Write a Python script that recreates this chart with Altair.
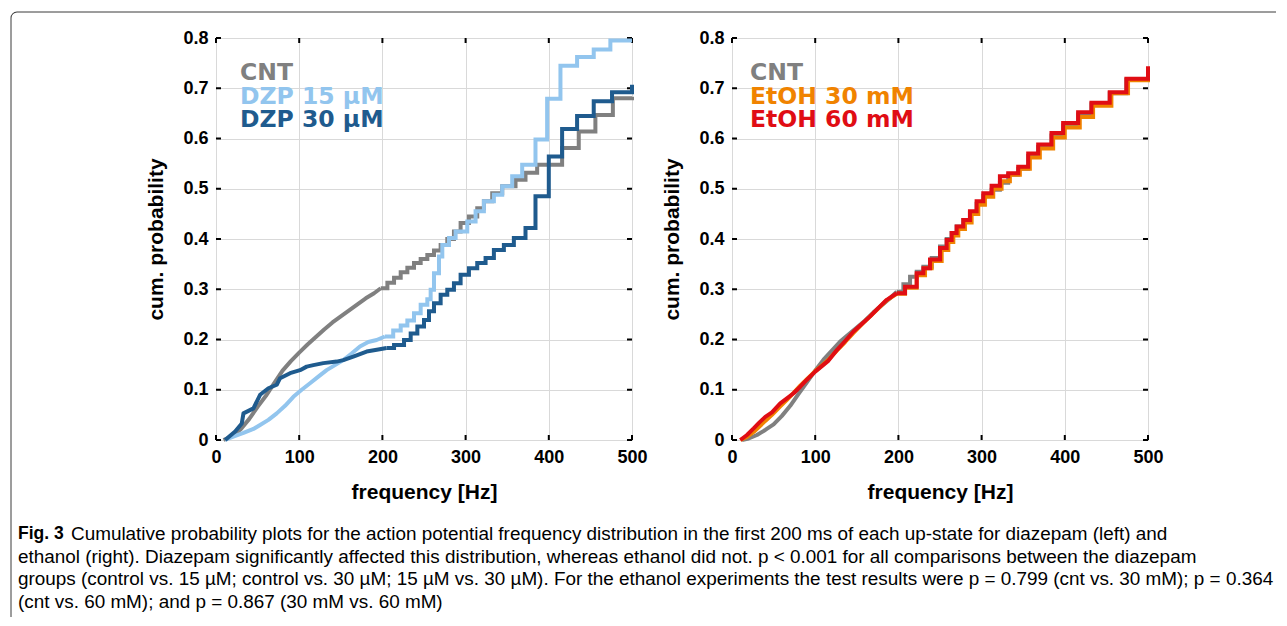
import altair as alt
import pandas as pd

# ---------------- data ----------------
# Left panel: diazepam
cnt_l_freq = [9, 20, 30, 40, 50, 60, 70, 80, 90, 100, 110, 120, 130, 140, 150, 160, 170, 180, 190,
              198, 206, 214, 222, 230, 238, 246, 254, 262, 270, 278, 286, 294, 304, 314, 322, 332,
              344, 360, 372, 386, 416, 436, 456, 477, 500]
cnt_l_prob = [0, 0.008, 0.022, 0.042, 0.066, 0.088, 0.113, 0.138, 0.157, 0.174, 0.19, 0.205, 0.22,
              0.234, 0.246, 0.258, 0.27, 0.282, 0.292, 0.302, 0.313, 0.323, 0.334, 0.343, 0.352,
              0.36, 0.368, 0.377, 0.388, 0.4, 0.415, 0.432, 0.445, 0.461, 0.475, 0.491, 0.505,
              0.518, 0.532, 0.548, 0.581, 0.614, 0.647, 0.68, 0.683]

dzp15_freq = [11, 20, 33, 45, 53, 63, 73, 83, 93, 103, 113, 123, 133, 143, 153, 163, 173, 183, 193,
              203, 213, 222, 230, 238, 246, 254, 258, 262, 268, 272, 280, 288, 302, 312, 322, 334,
              344, 356, 368, 384, 398, 414, 434, 454, 474, 500]
dzp15_prob = [0, 0.006, 0.014, 0.022, 0.03, 0.04, 0.053, 0.068, 0.086, 0.1, 0.113, 0.126, 0.139,
              0.149, 0.159, 0.172, 0.186, 0.195, 0.199, 0.206, 0.218, 0.228, 0.238, 0.252, 0.269,
              0.28, 0.299, 0.332, 0.365, 0.388, 0.402, 0.415, 0.435, 0.455, 0.475, 0.488, 0.505,
              0.525, 0.548, 0.598, 0.679, 0.745, 0.762, 0.777, 0.795, 0.795]

dzp30_freq = [11, 23, 31, 33, 45, 53, 63, 73, 77, 89, 101, 109, 117, 129, 145, 153, 165, 181, 195,
              205, 214, 226, 234, 242, 250, 256, 262, 270, 278, 286, 294, 304, 314, 324, 334, 346,
              358, 372, 384, 400, 416, 434, 454, 476, 500]
dzp30_prob = [0, 0.017, 0.033, 0.053, 0.063, 0.09, 0.103, 0.11, 0.123, 0.133, 0.139, 0.146, 0.149,
              0.153, 0.156, 0.159, 0.166, 0.176, 0.18, 0.183, 0.189, 0.199, 0.212, 0.226, 0.239,
              0.256, 0.272, 0.289, 0.299, 0.312, 0.329, 0.342, 0.352, 0.362, 0.378, 0.388, 0.402,
              0.422, 0.485, 0.564, 0.619, 0.645, 0.674, 0.692, 0.707]

# Right panel: ethanol
cnt_r_freq = [12, 20, 30, 40, 50, 60, 70, 80, 90, 100, 110, 120, 130, 140, 150, 160, 170, 180, 190,
              198, 206, 214, 222, 230, 240, 250, 258, 264, 270, 278, 286, 294, 302, 312, 322, 332,
              344, 356, 368, 384, 398, 416, 432, 454, 474, 500]
cnt_r_prob = [0, 0.003, 0.01, 0.02, 0.031, 0.048, 0.068, 0.092, 0.115, 0.138, 0.16, 0.178, 0.196,
              0.21, 0.224, 0.238, 0.254, 0.268, 0.282, 0.295, 0.31, 0.325, 0.335, 0.345, 0.362,
              0.385, 0.4, 0.412, 0.425, 0.438, 0.452, 0.47, 0.486, 0.498, 0.512, 0.528, 0.54,
              0.565, 0.583, 0.606, 0.626, 0.648, 0.668, 0.69, 0.717, 0.72]

etoh30_freq = [10, 18, 26, 33, 40, 48, 58, 66, 74, 82, 90, 100, 108, 116, 126, 136, 146, 156, 166,
               176, 186, 198, 208, 222, 232, 240, 252, 260, 266, 272, 280, 288, 296, 304, 314, 324,
               334, 346, 358, 370, 386, 400, 418, 434, 456, 476, 500]
etoh30_prob = [0, 0.006, 0.016, 0.027, 0.038, 0.05, 0.067, 0.08, 0.094, 0.108, 0.121, 0.137, 0.148,
               0.16, 0.178, 0.195, 0.213, 0.23, 0.246, 0.262, 0.278, 0.291, 0.303, 0.328, 0.342,
               0.356, 0.378, 0.394, 0.407, 0.42, 0.433, 0.45, 0.468, 0.484, 0.5, 0.515, 0.528,
               0.54, 0.562, 0.58, 0.602, 0.622, 0.643, 0.665, 0.69, 0.716, 0.735]

etoh60_freq = [10, 18, 26, 33, 40, 48, 58, 66, 74, 82, 90, 100, 108, 116, 126, 136, 146, 156, 166,
               176, 186, 198, 208, 222, 230, 238, 250, 258, 264, 270, 278, 286, 294, 302, 312, 322,
               332, 344, 356, 368, 384, 398, 416, 432, 454, 474, 500]
etoh60_prob = [0, 0.01, 0.023, 0.035, 0.046, 0.055, 0.073, 0.083, 0.093, 0.106, 0.12, 0.136, 0.147,
               0.158, 0.179, 0.197, 0.216, 0.231, 0.246, 0.263, 0.279, 0.292, 0.305, 0.332, 0.342,
               0.359, 0.382, 0.398, 0.412, 0.425, 0.438, 0.455, 0.475, 0.491, 0.506, 0.525, 0.531,
               0.544, 0.57, 0.588, 0.611, 0.631, 0.652, 0.671, 0.692, 0.719, 0.744]

# frequency above which each curve shows discrete steps
step_from_left = [198, 203, 205]
step_from_right = [198, 198, 198]

left_names = ["CNT", "DZP 15 µM", "DZP 30 µM"]
left_colors = ["#808080", "#92c5ee", "#1f5b8e"]
right_names = ["CNT", "EtOH 30 mM", "EtOH 60 mM"]
right_colors = ["#808080", "#f08300", "#e00d14"]

x_ticks = [0, 100, 200, 300, 400, 500]
y_ticks = [0, 0.1, 0.2, 0.3, 0.4, 0.5, 0.6, 0.7, 0.8]

caption_bold = "Fig. 3"
caption_lines = [
    "Cumulative probability plots for the action potential frequency distribution in the first 200 ms of each up-state for diazepam (left) and",
    "ethanol (right). Diazepam significantly affected this distribution, whereas ethanol did not. p < 0.001 for all comparisons between the diazepam",
    "groups (control vs. 15 µM; control vs. 30 µM; 15 µM vs. 30 µM). For the ethanol experiments the test results were p = 0.799 (cnt vs. 30 mM); p = 0.364",
    "(cnt vs. 60 mM); and p = 0.867 (30 mM vs. 60 mM)",
]

# ---------------- layout / style ----------------
W, H = 416, 402
AX_FONT = "Liberation Sans"
LEG_FONT = "DejaVu Sans"
CAP_FONT = "Liberation Sans"
cap_sizes = [18.9, 18.9, 18.9, 18.9]

xs = alt.Scale(domain=[0, 500], nice=False, zero=False)
ys = alt.Scale(domain=[0, 0.8], nice=False, zero=False)


def xaxis():
    return alt.Axis(values=x_ticks, title="frequency [Hz]", grid=True, gridColor="#d9d9d9",
                    gridWidth=1, ticks=False, domain=False, labelFont=AX_FONT, labelFontSize=18,
                    labelFontWeight="bold", labelColor="black", labelPadding=8, labelFlush=False,
                    labelOverlap=False, titleFont=AX_FONT, titleFontSize=21, titleFontWeight="bold",
                    titleColor="black", titlePadding=15)


def yaxis():
    return alt.Axis(values=y_ticks, title="cum. probability", grid=True, gridColor="#d9d9d9",
                    gridWidth=1, ticks=False, domain=False, labelFont=AX_FONT, labelFontSize=18,
                    labelFontWeight="bold", labelColor="black", labelPadding=8, labelFlush=False,
                    labelOverlap=False,
                    labelExpr="datum.value == 0 ? '0' : format(datum.value, '.1f')",
                    titleFont=AX_FONT, titleFontSize=21, titleFontWeight="bold",
                    titleColor="black", titlePadding=16)


def tick_layers():
    xdf = pd.DataFrame({"freq": x_ticks})
    ydf = pd.DataFrame({"prob": y_ticks})
    xenc = alt.X("freq:Q", scale=xs, axis=xaxis())
    yenc = alt.Y("prob:Q", scale=ys, axis=yaxis())
    base_x = alt.Chart(xdf).mark_rule(color="black", strokeWidth=2)
    base_y = alt.Chart(ydf).mark_rule(color="black", strokeWidth=2)
    return [
        base_x.encode(x=xenc, y=alt.value(H), y2=alt.value(H - 5)),
        base_x.encode(x=xenc, y=alt.value(0), y2=alt.value(5)),
        base_y.encode(y=yenc, x=alt.value(0), x2=alt.value(5)),
        base_y.encode(y=yenc, x=alt.value(W), x2=alt.value(W - 5)),
    ]


def series_layers(freq, prob, name, names, colors, step_from):
    df = pd.DataFrame({"freq": freq, "prob": prob, "series": name})
    enc = dict(
        x=alt.X("freq:Q", scale=xs, axis=xaxis()),
        y=alt.Y("prob:Q", scale=ys, axis=yaxis()),
        color=alt.Color("series:N", scale=alt.Scale(domain=names, range=colors), legend=None),
    )
    base = alt.Chart(df)
    smooth = base.mark_line(interpolate="linear", strokeWidth=4, strokeJoin="round").encode(
        **enc).transform_filter(alt.datum.freq <= step_from)
    steps = base.mark_line(interpolate="step-after", strokeWidth=4, strokeJoin="miter").encode(
        **enc).transform_filter(alt.datum.freq >= step_from)
    return [smooth, steps]


def text_layer(txt, x, y, color, size, font, weight="normal", align="left", baseline="alphabetic"):
    return alt.Chart(pd.DataFrame({"t": [txt]})).mark_text(
        align=align, baseline=baseline, font=font, fontSize=size, fontWeight=weight, color=color
    ).encode(x=alt.value(x), y=alt.value(y), text="t:N")


def legend_layers(names, colors, x0):
    ys_ = [42, 65.5, 89]
    return [text_layer(n, x0, y, c, 23.5, LEG_FONT, "bold") for n, c, y in zip(names, colors, ys_)]


# left panel layers
left_layers = tick_layers()
left_layers += series_layers(cnt_l_freq, cnt_l_prob, left_names[0], left_names, left_colors, step_from_left[0])
left_layers += series_layers(dzp15_freq, dzp15_prob, left_names[1], left_names, left_colors, step_from_left[1])
left_layers += series_layers(dzp30_freq, dzp30_prob, left_names[2], left_names, left_colors, step_from_left[2])
left_layers += legend_layers(left_names, left_colors, 24)

# caption (relative to left plot origin at page 216,38)
cap_x = 18 - 216
cap_y0 = 534 - 38
cap_dy = 22.5
left_layers.append(text_layer(caption_bold, cap_x, cap_y0, "black", 17.5, CAP_FONT, "bold", baseline="middle"))
left_layers.append(text_layer(caption_lines[0], cap_x + 53, cap_y0, "black", cap_sizes[0], CAP_FONT, baseline="middle"))
for i, line in enumerate(caption_lines[1:], start=1):
    left_layers.append(text_layer(line, cap_x, cap_y0 + i * cap_dy, "black", cap_sizes[i], CAP_FONT, baseline="middle"))

# figure frame (rounded top-left corner)
frame_color = "#3a3a3a"
frame_df = pd.DataFrame({"a": [0]})
left_layers.append(alt.Chart(frame_df).mark_rule(color=frame_color, strokeWidth=1).encode(
    x=alt.value(-199), x2=alt.value(1060), y=alt.value(-26)))
left_layers.append(alt.Chart(frame_df).mark_rule(color=frame_color, strokeWidth=1).encode(
    x=alt.value(-205), y=alt.value(-20), y2=alt.value(579)))
left_layers.append(alt.Chart(frame_df).mark_arc(
    theta=4.712389, theta2=6.283185, radius=6.5, radius2=5.5, color=frame_color).encode(
    x=alt.value(-199), y=alt.value(-20)))

left = alt.layer(*left_layers).properties(width=W, height=H)

right_layers = tick_layers()
right_layers += series_layers(cnt_r_freq, cnt_r_prob, right_names[0], right_names, right_colors, step_from_right[0])
right_layers += series_layers(etoh30_freq, etoh30_prob, right_names[1], right_names, right_colors, step_from_right[1])
right_layers += series_layers(etoh60_freq, etoh60_prob, right_names[2], right_names, right_colors, step_from_right[2])
right_layers += legend_layers(right_names, right_colors, 18)
right = alt.layer(*right_layers).properties(width=W, height=H)

chart = alt.hconcat(left, right, spacing=100, bounds="flush").resolve_scale(
    color="independent"
).properties(
    padding={"left": 2, "top": 3, "right": 0, "bottom": 0}
).configure_view(stroke="black", strokeWidth=2).configure(background="white")

chart.save("out.html", embed_options={"renderer": "svg", "actions": False})
